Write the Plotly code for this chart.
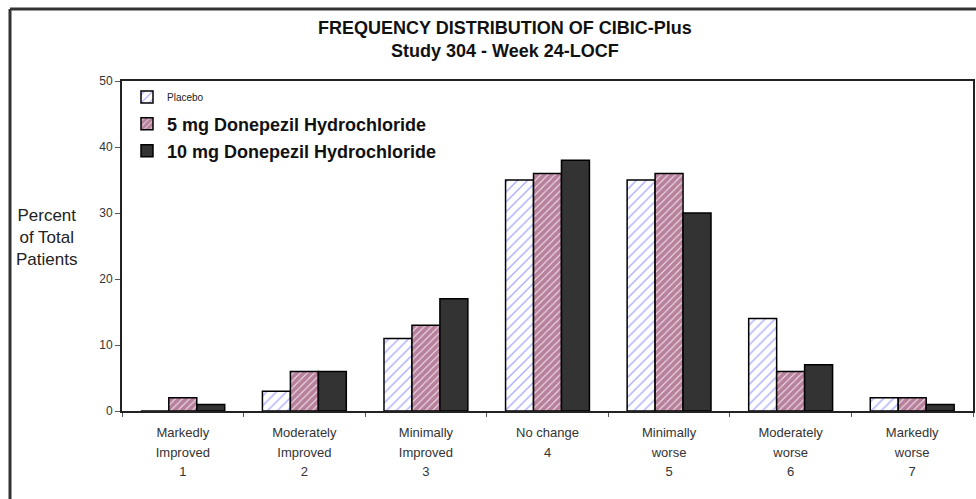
import plotly.graph_objects as go

categories = [
    "Markedly<br>Improved<br>1",
    "Moderately<br>Improved<br>2",
    "Minimally<br>Improved<br>3",
    "No change<br>4",
    "Minimally<br>worse<br>5",
    "Moderately<br>worse<br>6",
    "Markedly<br>worse<br>7",
]
placebo = [0, 3, 11, 35, 35, 14, 2]
mg5 = [2, 6, 13, 36, 36, 6, 2]
mg10 = [1, 6, 17, 38, 30, 7, 1]

series_names = ["Placebo", "5 mg Donepezil Hydrochloride", "10 mg Donepezil Hydrochloride"]
y_ticks = [0, 10, 20, 30, 40, 50]

FONT = "Liberation Sans, Arial, sans-serif"

W, H = 976, 499
PL, PR, PT, PB = 122, 973, 81, 411  # plot area in pixels
L, R, T, B = PL, W - PR, PT, H - PB
pw = PR - PL
ph = PB - PT


def px(x):
    return (x - PL) / pw


def py(y):
    return (PB - y) / ph


tick_text = ["<span style='font-size:13px'>" + c + "</span>" for c in categories]

fig = go.Figure()
fig.add_trace(go.Bar(
    x=categories, y=placebo, name=series_names[0], legend="legend", showlegend=True,
    marker=dict(color="white", line=dict(color="black", width=1.5),
                pattern=dict(shape="/", fgcolor="#5a5aff", bgcolor="white", size=7, solidity=0.2)),
))
fig.add_trace(go.Bar(
    x=categories, y=mg5, name="<b>" + series_names[1] + "</b>", legend="legend2", showlegend=True,
    marker=dict(color="#993366", line=dict(color="black", width=1.5),
                pattern=dict(shape="/", fgcolor="#7a1c4a", bgcolor="#f4e6ee", size=5, solidity=0.8)),
))
fig.add_trace(go.Bar(
    x=categories, y=mg10, name="<b>" + series_names[2] + "</b>", legend="legend3", showlegend=True,
    marker=dict(color="#333333", line=dict(color="black", width=1.5)),
))

frame = dict(color="#333", width=3)

fig.update_layout(
    width=W, height=H,
    margin=dict(l=L, r=R, t=T, b=B, autoexpand=False),
    paper_bgcolor="white", plot_bgcolor="white",
    font=dict(family=FONT, color="#222"),
    showlegend=True,
    barmode="group", bargap=0.31, bargroupgap=0,
    legend=dict(x=px(127), y=py(97), xanchor="left", yanchor="middle",
                font=dict(size=10, color="#222"), bgcolor="rgba(0,0,0,0)"),
    legend2=dict(x=px(127), y=py(124), xanchor="left", yanchor="middle",
                 font=dict(size=18, color="#111"), bgcolor="rgba(0,0,0,0)"),
    legend3=dict(x=px(127), y=py(151), xanchor="left", yanchor="middle",
                 font=dict(size=18, color="#111"), bgcolor="rgba(0,0,0,0)"),
    xaxis=dict(
        showline=True, linecolor="#222", linewidth=2, mirror=True,
        ticks="outside", tickson="boundaries", ticklen=4, tickcolor="#555",
        tickmode="array", tickvals=categories, ticktext=tick_text,
        tickfont=dict(size=15, color="#333"), showgrid=False, ticklabelstandoff=6,
    ),
    yaxis=dict(
        range=[0, 50], tickvals=y_ticks,
        showline=True, linecolor="#222", linewidth=2, mirror=True,
        ticks="outside", ticklen=5, tickcolor="#555",
        tickfont=dict(size=12, color="#333"), showgrid=False, zeroline=False,
    ),
    annotations=[
        dict(text="<b>FREQUENCY DISTRIBUTION OF CIBIC-Plus<br>Study 304 - Week 24-LOCF</b>",
             x=px(505), y=py(40), xref="paper", yref="paper", showarrow=False,
             font=dict(size=18, color="#111"), xanchor="center", yanchor="middle"),
        dict(text="Percent<br>of Total<br>Patients",
             x=px(46), y=py(238), xref="paper", yref="paper", showarrow=False,
             font=dict(size=17, color="#222"), xanchor="center", yanchor="middle"),
    ],
    shapes=[
        dict(type="line", xref="paper", yref="paper",
             x0=px(10), x1=px(976), y0=py(9), y1=py(9), line=frame, layer="above"),
        dict(type="line", xref="paper", yref="paper",
             x0=px(10), x1=px(10), y0=py(9), y1=py(499), line=frame, layer="above"),
    ],
)

fig.write_html(
    "out.html",
    config={"displayModeBar": False},
    post_script="document.body.style.margin='0';document.body.style.overflow='hidden';",
)
